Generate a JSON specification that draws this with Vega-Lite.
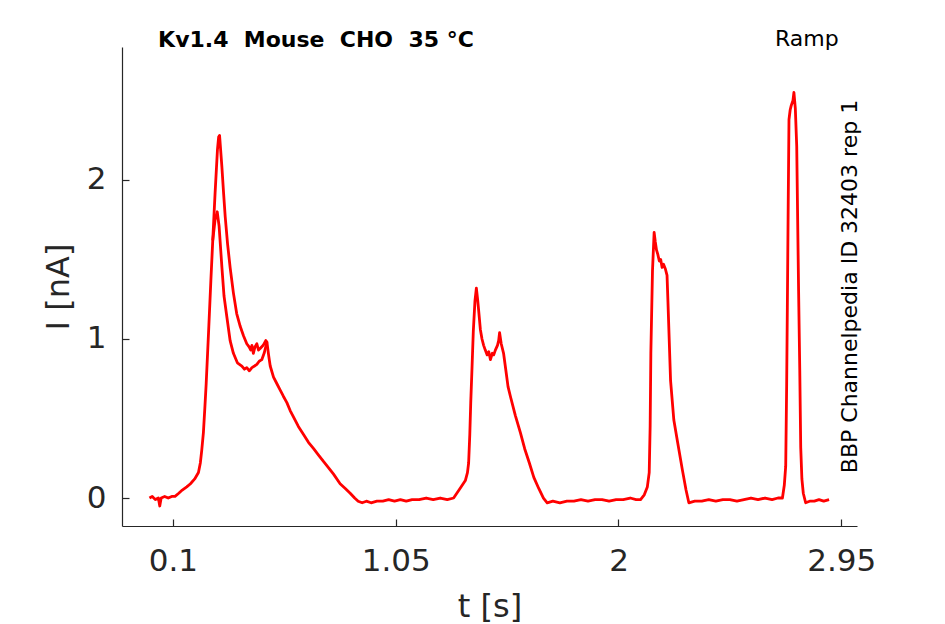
{
  "$schema": "https://vega.github.io/schema/vega-lite/v6.json",
  "width": 735,
  "height": 479,
  "autosize": "none",
  "padding": {"left": 122, "top": 47, "right": 88, "bottom": 98},
  "background": "white",
  "config": {
    "view": {"stroke": null},
    "font": "DejaVu Sans",
    "axis": {
      "grid": false,
      "labelFont": "DejaVu Sans",
      "titleFont": "DejaVu Sans",
      "labelFontSize": 31,
      "titleFontSize": 32,
      "titleFontWeight": "normal",
      "labelColor": "#262626",
      "titleColor": "#262626",
      "domainColor": "#262626",
      "tickColor": "#262626",
      "domainWidth": 1.2,
      "tickWidth": 1.2
    }
  },
  "resolve": {"axis": {"x": "independent", "y": "independent"}},
  "layer": [
    {
      "data": {
        "values": [
          {"t": 0.000, "i": 0.00, "s": "a"},
          {"t": 0.012, "i": 0.01, "s": "a"},
          {"t": 0.025, "i": -0.01, "s": "a"},
          {"t": 0.038, "i": 0.00, "s": "a"},
          {"t": 0.044, "i": -0.05, "s": "a"},
          {"t": 0.050, "i": 0.00, "s": "a"},
          {"t": 0.065, "i": 0.01, "s": "a"},
          {"t": 0.080, "i": 0.00, "s": "a"},
          {"t": 0.095, "i": 0.01, "s": "a"},
          {"t": 0.109, "i": 0.01, "s": "a"},
          {"t": 0.125, "i": 0.03, "s": "a"},
          {"t": 0.140, "i": 0.05, "s": "a"},
          {"t": 0.159, "i": 0.07, "s": "a"},
          {"t": 0.175, "i": 0.09, "s": "a"},
          {"t": 0.193, "i": 0.12, "s": "a"},
          {"t": 0.209, "i": 0.16, "s": "a"},
          {"t": 0.217, "i": 0.22, "s": "a"},
          {"t": 0.223, "i": 0.30, "s": "a"},
          {"t": 0.230, "i": 0.41, "s": "a"},
          {"t": 0.236, "i": 0.56, "s": "a"},
          {"t": 0.242, "i": 0.72, "s": "a"},
          {"t": 0.252, "i": 1.04, "s": "a"},
          {"t": 0.262, "i": 1.37, "s": "a"},
          {"t": 0.270, "i": 1.62, "s": "a"},
          {"t": 0.280, "i": 1.92, "s": "a"},
          {"t": 0.290, "i": 2.19, "s": "a"},
          {"t": 0.295, "i": 2.27, "s": "a"},
          {"t": 0.299, "i": 2.28, "s": "a"},
          {"t": 0.309, "i": 2.08, "s": "a"},
          {"t": 0.316, "i": 1.92, "s": "a"},
          {"t": 0.323, "i": 1.77, "s": "a"},
          {"t": 0.333, "i": 1.60, "s": "a"},
          {"t": 0.344, "i": 1.45, "s": "a"},
          {"t": 0.358, "i": 1.29, "s": "a"},
          {"t": 0.372, "i": 1.16, "s": "a"},
          {"t": 0.387, "i": 1.08, "s": "a"},
          {"t": 0.401, "i": 1.02, "s": "a"},
          {"t": 0.415, "i": 0.97, "s": "a"},
          {"t": 0.425, "i": 0.95, "s": "a"},
          {"t": 0.432, "i": 0.93, "s": "a"},
          {"t": 0.437, "i": 0.96, "s": "a"},
          {"t": 0.443, "i": 0.91, "s": "a"},
          {"t": 0.450, "i": 0.95, "s": "a"},
          {"t": 0.458, "i": 0.97, "s": "a"},
          {"t": 0.465, "i": 0.93, "s": "a"},
          {"t": 0.472, "i": 0.94, "s": "a"},
          {"t": 0.485, "i": 0.96, "s": "a"},
          {"t": 0.496, "i": 0.99, "s": "a"},
          {"t": 0.501, "i": 0.98, "s": "a"},
          {"t": 0.508, "i": 0.90, "s": "a"},
          {"t": 0.515, "i": 0.83, "s": "a"},
          {"t": 0.529, "i": 0.76, "s": "a"},
          {"t": 0.543, "i": 0.72, "s": "a"},
          {"t": 0.557, "i": 0.68, "s": "a"},
          {"t": 0.571, "i": 0.64, "s": "a"},
          {"t": 0.586, "i": 0.60, "s": "a"},
          {"t": 0.600, "i": 0.55, "s": "a"},
          {"t": 0.614, "i": 0.51, "s": "a"},
          {"t": 0.635, "i": 0.45, "s": "a"},
          {"t": 0.657, "i": 0.40, "s": "a"},
          {"t": 0.678, "i": 0.35, "s": "a"},
          {"t": 0.700, "i": 0.31, "s": "a"},
          {"t": 0.721, "i": 0.27, "s": "a"},
          {"t": 0.742, "i": 0.23, "s": "a"},
          {"t": 0.764, "i": 0.19, "s": "a"},
          {"t": 0.785, "i": 0.15, "s": "a"},
          {"t": 0.813, "i": 0.09, "s": "a"},
          {"t": 0.835, "i": 0.06, "s": "a"},
          {"t": 0.856, "i": 0.03, "s": "a"},
          {"t": 0.875, "i": 0.00, "s": "a"},
          {"t": 0.890, "i": -0.02, "s": "a"},
          {"t": 0.907, "i": -0.03, "s": "a"},
          {"t": 0.925, "i": -0.02, "s": "a"},
          {"t": 0.945, "i": -0.03, "s": "a"},
          {"t": 0.970, "i": -0.02, "s": "a"},
          {"t": 0.995, "i": -0.02, "s": "a"},
          {"t": 1.020, "i": -0.01, "s": "a"},
          {"t": 1.045, "i": -0.02, "s": "a"},
          {"t": 1.070, "i": -0.01, "s": "a"},
          {"t": 1.095, "i": -0.02, "s": "a"},
          {"t": 1.120, "i": -0.01, "s": "a"},
          {"t": 1.150, "i": -0.01, "s": "a"},
          {"t": 1.180, "i": 0.00, "s": "a"},
          {"t": 1.210, "i": -0.01, "s": "a"},
          {"t": 1.240, "i": 0.00, "s": "a"},
          {"t": 1.270, "i": -0.01, "s": "a"},
          {"t": 1.297, "i": 0.00, "s": "a"},
          {"t": 1.320, "i": 0.05, "s": "a"},
          {"t": 1.347, "i": 0.11, "s": "a"},
          {"t": 1.356, "i": 0.16, "s": "a"},
          {"t": 1.361, "i": 0.22, "s": "a"},
          {"t": 1.366, "i": 0.40, "s": "a"},
          {"t": 1.370, "i": 0.60, "s": "a"},
          {"t": 1.375, "i": 0.80, "s": "a"},
          {"t": 1.381, "i": 1.05, "s": "a"},
          {"t": 1.388, "i": 1.24, "s": "a"},
          {"t": 1.394, "i": 1.32, "s": "a"},
          {"t": 1.400, "i": 1.24, "s": "a"},
          {"t": 1.405, "i": 1.16, "s": "a"},
          {"t": 1.411, "i": 1.06, "s": "a"},
          {"t": 1.418, "i": 1.00, "s": "a"},
          {"t": 1.425, "i": 0.96, "s": "a"},
          {"t": 1.432, "i": 0.93, "s": "a"},
          {"t": 1.440, "i": 0.90, "s": "a"},
          {"t": 1.447, "i": 0.92, "s": "a"},
          {"t": 1.454, "i": 0.87, "s": "a"},
          {"t": 1.462, "i": 0.91, "s": "a"},
          {"t": 1.468, "i": 0.90, "s": "a"},
          {"t": 1.475, "i": 0.93, "s": "a"},
          {"t": 1.484, "i": 0.96, "s": "a"},
          {"t": 1.489, "i": 0.99, "s": "a"},
          {"t": 1.493, "i": 1.04, "s": "a"},
          {"t": 1.500, "i": 0.97, "s": "a"},
          {"t": 1.510, "i": 0.91, "s": "a"},
          {"t": 1.520, "i": 0.80, "s": "a"},
          {"t": 1.529, "i": 0.70, "s": "a"},
          {"t": 1.539, "i": 0.64, "s": "a"},
          {"t": 1.560, "i": 0.52, "s": "a"},
          {"t": 1.582, "i": 0.41, "s": "a"},
          {"t": 1.600, "i": 0.31, "s": "a"},
          {"t": 1.620, "i": 0.22, "s": "a"},
          {"t": 1.639, "i": 0.13, "s": "a"},
          {"t": 1.660, "i": 0.06, "s": "a"},
          {"t": 1.680, "i": 0.00, "s": "a"},
          {"t": 1.696, "i": -0.03, "s": "a"},
          {"t": 1.720, "i": -0.02, "s": "a"},
          {"t": 1.750, "i": -0.03, "s": "a"},
          {"t": 1.780, "i": -0.02, "s": "a"},
          {"t": 1.810, "i": -0.02, "s": "a"},
          {"t": 1.840, "i": -0.01, "s": "a"},
          {"t": 1.870, "i": -0.02, "s": "a"},
          {"t": 1.900, "i": -0.01, "s": "a"},
          {"t": 1.930, "i": -0.01, "s": "a"},
          {"t": 1.960, "i": -0.02, "s": "a"},
          {"t": 1.990, "i": -0.01, "s": "a"},
          {"t": 2.020, "i": -0.01, "s": "a"},
          {"t": 2.050, "i": 0.00, "s": "a"},
          {"t": 2.075, "i": -0.01, "s": "a"},
          {"t": 2.094, "i": -0.01, "s": "a"},
          {"t": 2.110, "i": 0.02, "s": "a"},
          {"t": 2.123, "i": 0.07, "s": "a"},
          {"t": 2.131, "i": 0.16, "s": "a"},
          {"t": 2.135, "i": 0.45, "s": "a"},
          {"t": 2.138, "i": 0.91, "s": "a"},
          {"t": 2.145, "i": 1.43, "s": "a"},
          {"t": 2.152, "i": 1.67, "s": "a"},
          {"t": 2.157, "i": 1.61, "s": "a"},
          {"t": 2.162, "i": 1.56, "s": "a"},
          {"t": 2.168, "i": 1.53, "s": "a"},
          {"t": 2.174, "i": 1.49, "s": "a"},
          {"t": 2.180, "i": 1.50, "s": "a"},
          {"t": 2.186, "i": 1.45, "s": "a"},
          {"t": 2.192, "i": 1.47, "s": "a"},
          {"t": 2.200, "i": 1.44, "s": "a"},
          {"t": 2.207, "i": 1.40, "s": "a"},
          {"t": 2.211, "i": 1.23, "s": "a"},
          {"t": 2.222, "i": 0.74, "s": "a"},
          {"t": 2.236, "i": 0.49, "s": "a"},
          {"t": 2.251, "i": 0.36, "s": "a"},
          {"t": 2.272, "i": 0.18, "s": "a"},
          {"t": 2.288, "i": 0.05, "s": "a"},
          {"t": 2.300, "i": -0.03, "s": "a"},
          {"t": 2.325, "i": -0.02, "s": "a"},
          {"t": 2.355, "i": -0.02, "s": "a"},
          {"t": 2.385, "i": -0.01, "s": "a"},
          {"t": 2.415, "i": -0.02, "s": "a"},
          {"t": 2.445, "i": -0.01, "s": "a"},
          {"t": 2.475, "i": -0.01, "s": "a"},
          {"t": 2.505, "i": -0.02, "s": "a"},
          {"t": 2.535, "i": -0.01, "s": "a"},
          {"t": 2.565, "i": 0.00, "s": "a"},
          {"t": 2.595, "i": -0.01, "s": "a"},
          {"t": 2.625, "i": 0.00, "s": "a"},
          {"t": 2.655, "i": -0.01, "s": "a"},
          {"t": 2.680, "i": 0.00, "s": "a"},
          {"t": 2.699, "i": 0.00, "s": "a"},
          {"t": 2.707, "i": 0.08, "s": "a"},
          {"t": 2.713, "i": 0.20, "s": "a"},
          {"t": 2.717, "i": 0.70, "s": "a"},
          {"t": 2.720, "i": 1.20, "s": "a"},
          {"t": 2.724, "i": 1.90, "s": "a"},
          {"t": 2.727, "i": 2.38, "s": "a"},
          {"t": 2.732, "i": 2.44, "s": "a"},
          {"t": 2.737, "i": 2.47, "s": "a"},
          {"t": 2.744, "i": 2.50, "s": "a"},
          {"t": 2.748, "i": 2.55, "s": "a"},
          {"t": 2.754, "i": 2.45, "s": "a"},
          {"t": 2.760, "i": 2.21, "s": "a"},
          {"t": 2.764, "i": 1.75, "s": "a"},
          {"t": 2.768, "i": 1.30, "s": "a"},
          {"t": 2.773, "i": 0.80, "s": "a"},
          {"t": 2.777, "i": 0.32, "s": "a"},
          {"t": 2.782, "i": 0.12, "s": "a"},
          {"t": 2.788, "i": 0.03, "s": "a"},
          {"t": 2.798, "i": -0.03, "s": "a"},
          {"t": 2.815, "i": -0.02, "s": "a"},
          {"t": 2.835, "i": -0.02, "s": "a"},
          {"t": 2.855, "i": -0.01, "s": "a"},
          {"t": 2.875, "i": -0.02, "s": "a"},
          {"t": 2.898, "i": -0.01, "s": "a"},
          {"t": 0.270, "i": 1.62, "s": "b"},
          {"t": 0.280, "i": 1.75, "s": "b"},
          {"t": 0.289, "i": 1.80, "s": "b"},
          {"t": 0.297, "i": 1.71, "s": "b"},
          {"t": 0.303, "i": 1.58, "s": "b"},
          {"t": 0.309, "i": 1.45, "s": "b"},
          {"t": 0.318, "i": 1.27, "s": "b"},
          {"t": 0.330, "i": 1.14, "s": "b"},
          {"t": 0.344, "i": 0.99, "s": "b"},
          {"t": 0.358, "i": 0.91, "s": "b"},
          {"t": 0.375, "i": 0.85, "s": "b"},
          {"t": 0.394, "i": 0.83, "s": "b"},
          {"t": 0.405, "i": 0.81, "s": "b"},
          {"t": 0.415, "i": 0.82, "s": "b"},
          {"t": 0.426, "i": 0.80, "s": "b"},
          {"t": 0.437, "i": 0.82, "s": "b"},
          {"t": 0.448, "i": 0.83, "s": "b"},
          {"t": 0.458, "i": 0.84, "s": "b"},
          {"t": 0.468, "i": 0.86, "s": "b"},
          {"t": 0.479, "i": 0.87, "s": "b"},
          {"t": 0.489, "i": 0.91, "s": "b"},
          {"t": 0.496, "i": 0.95, "s": "b"},
          {"t": 0.501, "i": 0.98, "s": "b"}
        ]
      },
      "mark": {"type": "line", "color": "#ff0000", "strokeWidth": 2.8, "strokeJoin": "round", "clip": true},
      "encoding": {
        "x": {
          "field": "t",
          "type": "quantitative",
          "scale": {"domain": [-0.117, 3.017], "nice": false, "zero": false},
          "axis": {"values": [0.1, 1.05, 2, 2.95], "format": ".3~g", "title": "t [s]", "ticks": false, "tickSize": 0, "labelPadding": 20, "titlePadding": 15}
        },
        "y": {
          "field": "i",
          "type": "quantitative",
          "scale": {"domain": [-0.176, 2.836], "nice": false, "zero": false},
          "axis": {"values": [0, 1, 2], "format": ".3~g", "title": "I [nA]", "ticks": false, "tickSize": 0, "labelPadding": 16, "titlePadding": 11}
        },
        "detail": {"field": "s"},
        "order": {"field": "t", "type": "quantitative"}
      }
    },
    {
      "data": {"values": [{}]},
      "mark": {"type": "text", "text": "Kv1.4\u00a0\u00a0Mouse\u00a0\u00a0CHO\u00a0\u00a035 °C", "font": "DejaVu Sans", "fontWeight": "bold", "fontSize": 22, "align": "left", "baseline": "alphabetic", "color": "black"},
      "encoding": {
        "x": {"datum": 0.037, "type": "quantitative", "axis": null},
        "y": {"datum": 2.836, "type": "quantitative", "axis": null}
      }
    },
    {
      "data": {"values": [{}]},
      "mark": {"type": "text", "text": "Ramp", "font": "DejaVu Sans", "fontSize": 22, "align": "right", "baseline": "alphabetic", "color": "black"},
      "encoding": {
        "x": {
          "datum": 2.939,
          "type": "quantitative",
          "axis": {"orient": "bottom", "values": [0.1, 1.05, 2, 2.95], "labels": false, "domain": false, "title": null, "ticks": true, "tickSize": 7, "offset": -7}
        },
        "y": {
          "datum": 2.843,
          "type": "quantitative",
          "axis": {"orient": "left", "values": [0, 1, 2], "labels": false, "domain": false, "title": null, "ticks": true, "tickSize": 7, "offset": -7}
        }
      }
    },
    {
      "data": {"values": [{}]},
      "mark": {"type": "text", "text": "BBP Channelpedia ID 32403 rep 1", "font": "DejaVu Sans", "fontSize": 22, "angle": 270, "align": "center", "baseline": "alphabetic", "color": "black"},
      "encoding": {
        "x": {"datum": 3.017, "type": "quantitative", "axis": null},
        "y": {"datum": 1.33, "type": "quantitative", "axis": null}
      }
    }
  ]
}
